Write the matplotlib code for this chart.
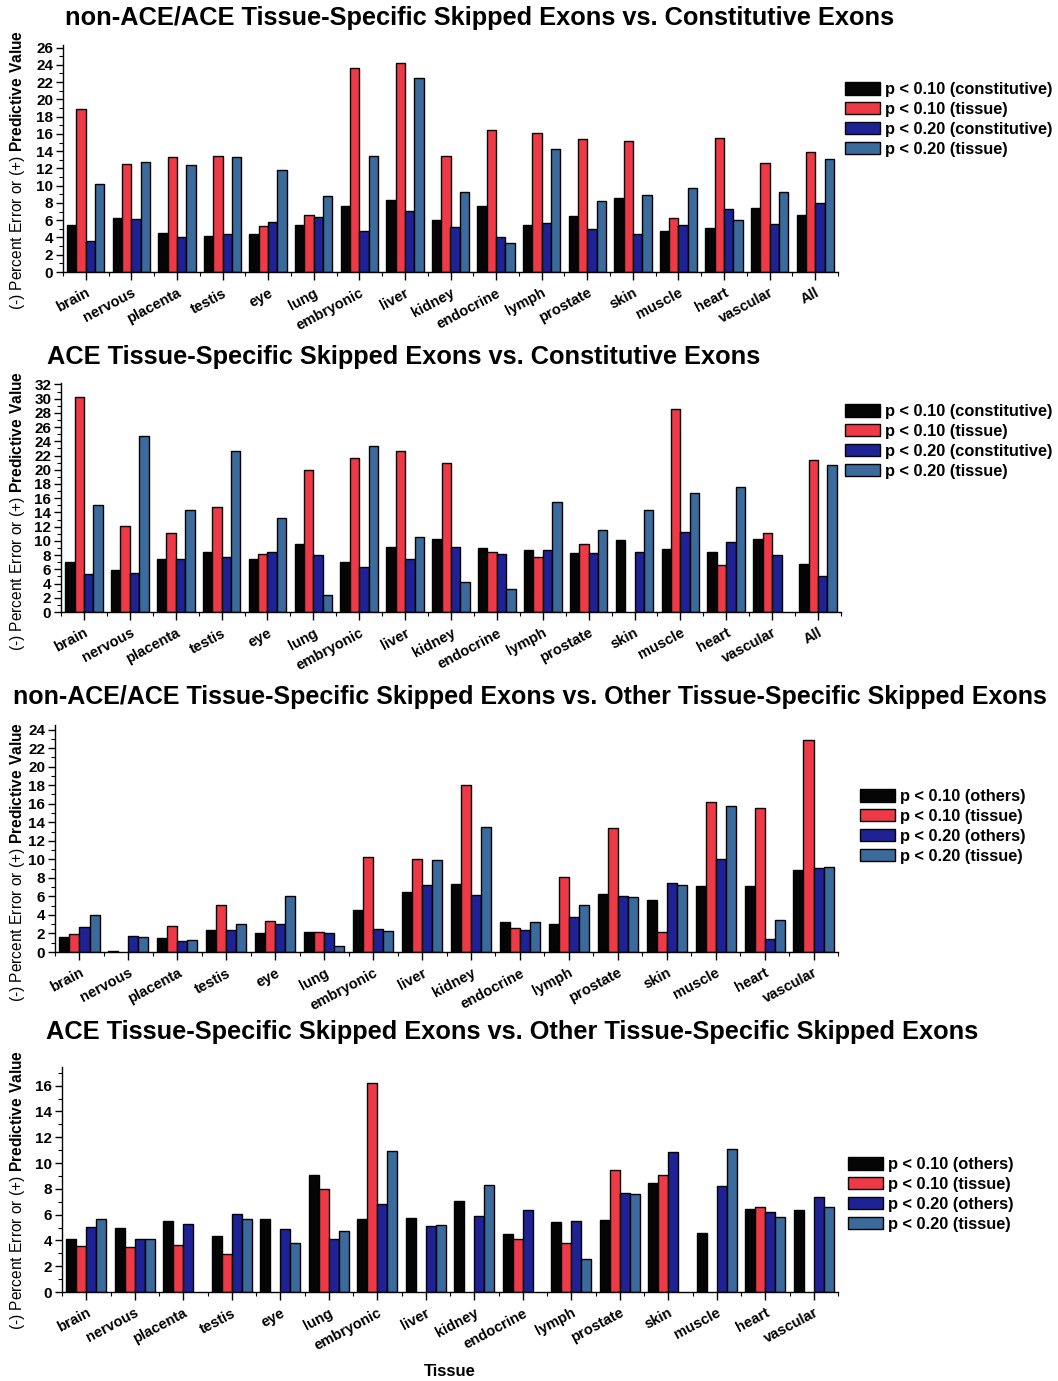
import numpy as np
import matplotlib
matplotlib.use("Agg")
import matplotlib.pyplot as plt
from matplotlib.patches import Patch
from matplotlib.ticker import MultipleLocator

plt.rcParams['font.family'] = ['Liberation Sans', 'DejaVu Sans']
plt.rcParams['mathtext.fontset'] = 'custom'
plt.rcParams['mathtext.rm'] = 'Liberation Sans'
plt.rcParams['mathtext.bf'] = 'Liberation Sans:bold'

tissues = ["brain", "nervous", "placenta", "testis", "eye", "lung", "embryonic",
           "liver", "kidney", "endocrine", "lymph", "prostate", "skin", "muscle",
           "heart", "vascular"]
tissues_all = tissues + ["All"]
nan = np.nan

# non-ACE/ACE vs constitutive
a_c10 = [5.5, 6.2, 4.5, 4.2, 4.4, 5.4, 7.6, 8.3, 6.0, 7.7, 5.5, 6.5, 8.6, 4.7, 5.1, 7.4, 6.6]
a_t10 = [18.9, 12.5, 13.3, 13.4, 5.3, 6.6, 23.6, 24.2, 13.4, 16.4, 16.1, 15.4, 15.2, 6.3, 15.5, 12.6, 13.9]
a_c20 = [3.6, 6.1, 4.1, 4.4, 5.75, 6.4, 4.8, 7.1, 5.2, 4.05, 5.7, 5.0, 4.4, 5.4, 7.3, 5.6, 8.0]
a_t20 = [10.2, 12.7, 12.35, 13.3, 11.8, 8.8, 13.4, 22.5, 9.3, 3.4, 14.2, 8.2, 8.9, 9.7, 6.0, 9.3, 13.1]

# ACE vs constitutive
b_c10 = [7.0, 5.9, 7.5, 8.5, 7.5, 9.5, 7.0, 9.2, 10.2, 9.0, 8.7, 8.3, 10.1, 8.9, 8.5, 10.2, 6.8]
b_t10 = [30.3, 12.1, 11.15, 14.7, 8.1, 20.0, 21.7, 22.6, 21.0, 8.4, 7.7, 9.55, nan, 28.5, 6.6, 11.15, 21.4]
b_c20 = [5.4, 5.5, 7.5, 7.8, 8.5, 8.05, 6.3, 7.5, 9.1, 8.1, 8.7, 8.3, 8.5, 11.3, 9.8, 8.05, 5.0]
b_t20 = [15.1, 24.8, 14.35, 22.7, 13.2, 2.35, 23.3, 10.6, 4.2, 3.3, 15.4, 11.5, 14.3, 16.7, 17.6, nan, 20.6]

# non-ACE/ACE vs other tissue-specific
c_o10 = [1.6, 0.1, 1.5, 2.4, 2.1, 2.2, 4.5, 6.5, 7.35, 3.2, 3.06, 6.3, 5.6, 7.1, 7.1, 8.9]
c_t10 = [1.9, nan, 2.85, 5.1, 3.3, 2.2, 10.3, 10.05, 18.0, 2.6, 8.07, 13.4, 2.2, 16.2, 15.5, 22.85]
c_o20 = [2.7, 1.73, 1.2, 2.4, 3.0, 2.1, 2.5, 7.2, 6.15, 2.4, 3.8, 6.0, 7.4, 10.05, 1.4, 9.05]
c_t20 = [4.0, 1.62, 1.33, 3.0, 6.05, 0.7, 2.3, 9.9, 13.5, 3.25, 5.1, 5.9, 7.25, 15.8, 3.5, 9.15]

# ACE vs other tissue-specific
d_o10 = [4.1, 4.94, 5.5, 4.37, 5.63, 9.04, 5.63, 5.76, 7.03, 4.52, 5.45, 5.6, 8.48, 4.57, 6.43, 6.33]
d_t10 = [3.57, 3.46, 3.64, 2.92, nan, 7.98, 16.2, nan, nan, 4.1, 3.8, 9.48, 9.04, nan, 6.59, nan]
d_o20 = [5.04, 4.1, 5.27, 6.02, 4.9, 4.08, 6.82, 5.12, 5.87, 6.36, 5.53, 7.65, 10.85, 8.24, 6.2, 7.39]
d_t20 = [5.66, 4.1, nan, 5.66, 3.8, 4.75, 10.96, 5.22, 8.3, nan, 2.53, 7.62, nan, 11.06, 5.79, 6.59]

colors = ["#050505", "#ee3a46", "#1f2294", "#3a6b9c"]
labels_const = ["p < 0.10 (constitutive)", "p < 0.10 (tissue)",
                "p < 0.20 (constitutive)", "p < 0.20 (tissue)"]
labels_other = ["p < 0.10 (others)", "p < 0.10 (tissue)",
                "p < 0.20 (others)", "p < 0.20 (tissue)"]

W, H = 1058, 1381
fig = plt.figure(figsize=(W / 100, H / 100), dpi=100)


def px(x0, y0, x1, y1):
    # pixel box (left, top, right, bottom) -> figure fraction rect
    return [x0 / W, 1 - y1 / H, (x1 - x0) / W, (y1 - y0) / H]


ylab = r"(-) Percent Error or (+) $\mathbf{Predictive\ Value}$"


def panel(rect, cats, series, ytop, title, title_xy, legend_labels, legend_xy, ylab_y,
          title_size=18.3):
    ax = fig.add_axes(rect)
    n = len(cats)
    x = np.arange(n)
    bw = 0.205
    for k, (vals, c) in enumerate(zip(series, colors)):
        ax.bar(x + (k - 1.5) * bw, vals, width=bw, color=c,
               edgecolor="black", linewidth=1.0, zorder=2)
    ax.set_xlim(-0.5, n - 0.5)
    ax.set_ylim(0, ytop)
    for s in ["top", "right"]:
        ax.spines[s].set_visible(False)
    ax.spines["left"].set_linewidth(1.0)
    ax.spines["bottom"].set_linewidth(1.0)
    ax.set_xticks(x)
    ax.set_xticks(np.arange(n + 1) - 0.5, minor=True)
    ax.set_xticklabels(cats, rotation=28, ha="right", rotation_mode="anchor",
                       fontsize=10.5, fontweight="bold")
    ax.yaxis.set_major_locator(MultipleLocator(2))
    ax.yaxis.set_minor_locator(MultipleLocator(1))
    for lab in ax.get_yticklabels():
        lab.set_fontweight("bold")
    ax.tick_params(axis="y", which="major", length=5, width=1, labelsize=11, pad=2)
    ax.tick_params(axis="y", which="minor", length=3, width=0.8)
    ax.tick_params(axis="x", which="major", length=6, width=1, pad=4)
    ax.tick_params(axis="x", which="minor", length=3, width=0.8)
    fig.text(title_xy[0] / W, 1 - title_xy[1] / H, title, ha="center", va="center",
             fontsize=title_size, fontweight="bold")
    fig.text(18 / W, 1 - ylab_y / H, ylab, rotation=90, ha="center", va="center",
             fontsize=11.2)
    handles = [Patch(facecolor=c, edgecolor="black", linewidth=1.0) for c in colors]
    fig.legend(handles, legend_labels, loc="upper left",
               bbox_to_anchor=(legend_xy[0] / W, 1 - legend_xy[1] / H),
               frameon=False, borderpad=0, borderaxespad=0, handlelength=2.15,
               handleheight=0.8, handletextpad=0.3, labelspacing=0.3,
               prop={"weight": "bold", "size": 11.75})
    return ax


panel(px(63, 45, 838, 272), tissues_all, [a_c10, a_t10, a_c20, a_t20], 26.3,
      "non-ACE/ACE Tissue-Specific Skipped Exons vs. Constitutive Exons",
      (480, 18), labels_const, (845, 82), 170)
panel(px(61, 383, 841, 612), tissues_all, [b_c10, b_t10, b_c20, b_t20], 32.2,
      "ACE Tissue-Specific Skipped Exons vs. Constitutive Exons",
      (404, 357), labels_const, (845, 404), 511)
panel(px(55, 725, 838, 952), tissues, [c_o10, c_t10, c_o20, c_t20], 24.5,
      "non-ACE/ACE Tissue-Specific Skipped Exons vs. Other Tissue-Specific Skipped Exons",
      (530, 697), labels_other, (860, 789), 862, title_size=18.0)
panel(px(62, 1067, 838, 1292), tissues, [d_o10, d_t10, d_o20, d_t20], 17.45,
      "ACE Tissue-Specific Skipped Exons vs. Other Tissue-Specific Skipped Exons",
      (512, 1032), labels_other, (848, 1157), 1190)
fig.text(450 / W, 1 - 1372 / H, "Tissue", ha="center", va="center",
         fontsize=12, fontweight="bold")

fig.savefig("out.png", dpi=100)
